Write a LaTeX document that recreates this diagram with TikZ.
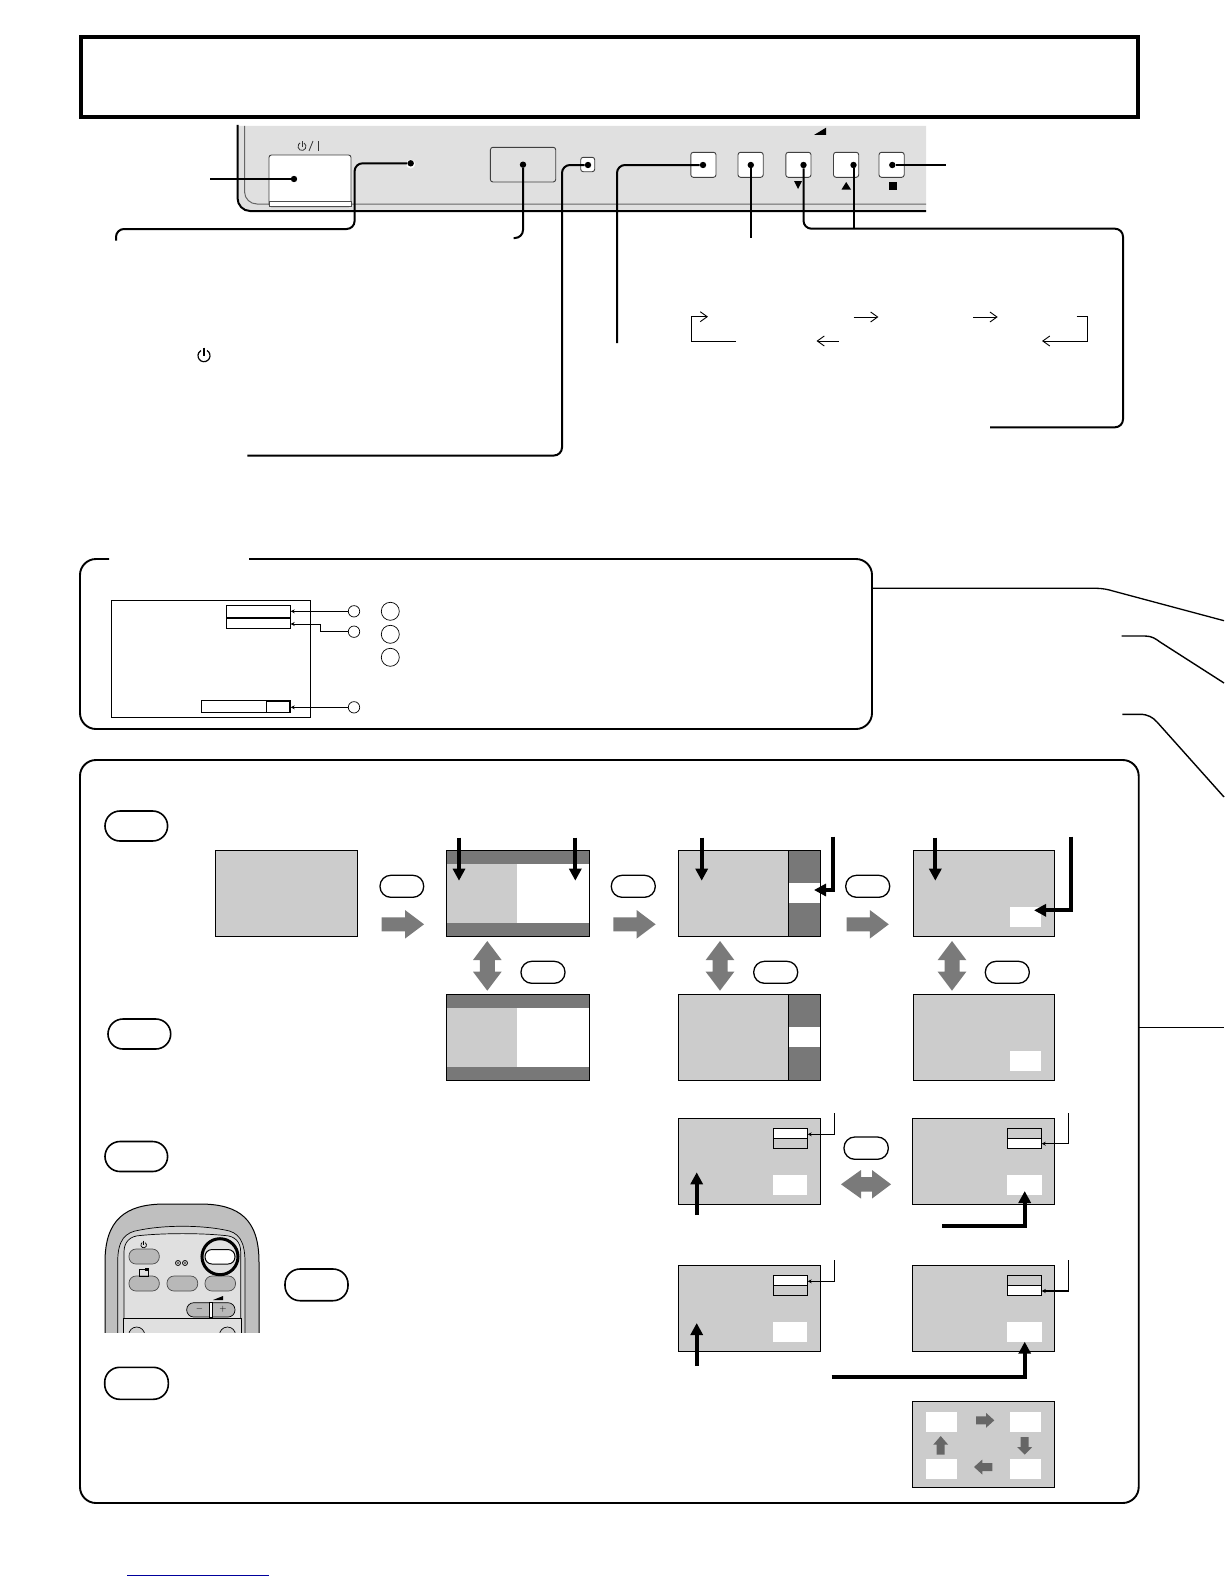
\documentclass[tikz,border=0pt]{standalone}
\usetikzlibrary{arrows.meta}
\definecolor{panelgray}{HTML}{E0E0E0}
\definecolor{scrgray}{HTML}{CCCCCC}
\definecolor{scrdark}{HTML}{787878}
\definecolor{arrgray}{HTML}{7A7A7A}
\definecolor{smallgray}{HTML}{666666}
\definecolor{linkblue}{HTML}{00009C}
\tikzset{
  x=1pt,y=-1pt,
  leader/.style={line width=2pt,rounded corners=8pt},
  dotnode/.style={circle,fill=black,inner sep=0pt,minimum size=6.4pt},
  keybox/.style={draw=black!75,line width=0.9pt,fill=white,rounded corners=2.5pt},
  framebox/.style={draw=black,line width=1.9pt,rounded corners=16pt},
  pill/.style={draw=black,line width=1.3pt,fill=white,rounded corners=10.8pt},
  bigpill/.style={draw=black,line width=1.6pt,fill=white,rounded corners=15pt},
  screen/.style={draw=black,line width=0.9pt},
  thinarrow/.style={line width=0.9pt,-{Straight Barb[length=7pt,width=10pt]}},
  thickarrow/.style={line width=4pt,-{Triangle[length=12pt,width=12pt]}},
  smallleader/.style={line width=0.8pt,-{Stealth[length=4pt,width=4pt]}},
  medleader/.style={line width=1.5pt,-{Stealth[length=4pt,width=4pt]}},
  remotebtn/.style={draw=black!70,line width=0.7pt,fill=black!28,rounded corners=7pt},
  smallring/.style={draw,circle,line width=0.7pt,minimum size=11.4pt,inner sep=0pt},
  bigring/.style={draw,circle,line width=0.7pt,minimum size=18pt,inner sep=0pt},
  volmark/.style={inner sep=0pt,font=\small},
}
\newcommand\grayright[2]{\fill[arrgray] (#1,#2) -- ++(0,-7) -- ++(23.3,0) -- ++(0,-7.3) -- ++(19,14.3) -- ++(-19,14.3) -- ++(0,-7.3) -- ++(-23.3,0) -- cycle;}
\newcommand\graydouble[2]{\fill[arrgray] (#1,#2) -- ++(14.3,19) -- ++(-6.8,0) -- ++(0,11.7) -- ++(6.8,0) -- ++(-14.3,19) -- ++(-14.3,-19) -- ++(6.8,0) -- ++(0,-11.7) -- ++(-6.8,0) -- cycle;}
\begin{document}
\begin{tikzpicture}
\useasboundingbox (0,0) rectangle (1224,1584);
\fill[white] (0,0) rectangle (1224,1584);

% title frame
\draw[line width=4pt] (81,37) rectangle (1138,117);

% control panel
\fill[panelgray] (237.5,126) -- (926,126) -- (926,211) -- (250,211) to[out=180,in=-90] (237.5,198) -- cycle;
\draw[line width=1pt,black!60] (244.6,126) -- (244.6,192) to[out=-90,in=180] (257,204) -- (926,204);
\draw[line width=2pt] (237.5,125) -- (237.5,198) to[out=-90,in=180] (250,211) -- (926,211);

% power button
\draw[keybox] (269,206.7) -- (269,155) -- (351,155) -- (351,206.7) -- cycle;
\draw[line width=0.7pt,black!70,fill=white] (269,201.7) rectangle (351,206.7);
\draw[line width=0.8pt,black!80] (304,143) arc[start angle=60,end angle=-240,radius=4pt];
\draw[line width=0.8pt,black!80] (302,141) -- (302,147);
\draw[line width=0.8pt,black!80] (309,151) -- (313,141);
\draw[line width=0.8pt,black!80] (318,141) -- (318,151);

% display windows
\draw[keybox,fill=panelgray] (490.4,147.3) rectangle (555.7,182);
\draw[keybox,fill=white] (580.7,157.3) rectangle (594.7,171.7);
\foreach \x in {690.8,738,785.8,833.5,879}
  \draw[keybox] (\x,152.3) rectangle (\x+25.2,177.3);
\fill (794,181) -- (802,181) -- (798,189) -- cycle;
\fill (841.5,189.5) -- (851,189.5) -- (846.2,182) -- cycle;
\fill (888.5,182) rectangle (896.5,189.5);
\fill (814,135) -- (826,135) -- (826,127.7) -- cycle;

% LED
\fill[white] (410.7,164) circle[radius=4.5pt];

% leader dots
\node[dotnode] (pwr) at (294,179) {};
\node[dotnode] (led) at (410.7,163.3) {};
\node[dotnode] (dsp) at (523,164.7) {};
\node[dotnode] (sns) at (588,165) {};
\node[dotnode] (ka) at (703,165) {};
\node[dotnode] (kb) at (750.8,165) {};
\node[dotnode] (kc) at (803.5,165) {};
\node[dotnode] (kd) at (853.5,165) {};
\node[dotnode] (ke) at (892.3,165) {};
\coordinate (pwrE) at (210,179);
\coordinate (ledE) at (116,240.7);
\coordinate (dspE) at (513.6,238);
\coordinate (snsE) at (247.4,455.5);
\coordinate (kaE) at (617,343);
\coordinate (kbE) at (750.8,238.3);
\coordinate (kcE) at (990,427.3);
\coordinate (kdE) at (853.5,228.7);
\coordinate (keE) at (946,165);

\draw[leader] (pwr) -- (pwrE);
\draw[leader] (led) -- (354.6,163.3) -- (354.6,229) -- (116,229) -- (ledE);
\draw[leader] (dsp) -- (523,238) -- (dspE);
\draw[leader] (sns) -- (562,165) -- (562,455.5) -- (snsE);
\draw[leader] (ka) -- (617,165) -- (kaE);
\draw[leader] (kb) -- (kbE);
\draw[leader] (kc) -- (803.5,228.7) -- (1123,228.7) -- (1123,427.3) -- (kcE);
\draw[leader] (kd) -- (kdE);
\draw[leader] (ke) -- (keE);

% cycle arrows
\draw[thinarrow] (736,341) -- (691,341) -- (691,316.7) -- (708,316.7);
\draw[thinarrow] (853.5,317) -- (878.4,317);
\draw[thinarrow] (973,317) -- (997.7,317);
\draw[thinarrow] (838.5,341) -- (816.5,341);
\draw[thinarrow] (1076.5,316.3) -- (1087,316.3) -- (1087,341) -- (1042,341);

% standby icon
\draw[line width=1.2pt] (207,350.5) arc[start angle=60,end angle=-240,radius=6pt];
\draw[line width=1.2pt] (204,347.5) -- (204,356);

% on-screen box
\draw[framebox] (109,559) -- (80,559) -- (80,729) -- (872,729) -- (872,559) -- (249,559);
\draw[line width=0.9pt] (111.3,600.3) rectangle (310.3,717.3);
\draw[line width=0.9pt] (226.3,605.3) rectangle (290.7,628.7);
\draw[line width=1.6pt] (226.3,617.7) -- (290.7,617.7);
\draw[line width=0.9pt] (201.3,700.3) rectangle (290.7,712.7);
\draw[line width=0.9pt] (266.3,701) rectangle (289,712);
\node[smallring] (ca) at (354,611.3) {};
\node[smallring] (cb) at (354,631.7) {};
\node[smallring] (cc) at (354,707.3) {};
\node[bigring] (cd) at (390.3,611.3) {};
\node[bigring] (ce) at (390.3,634.3) {};
\node[bigring] (cf) at (390.3,657.3) {};
\coordinate (ta) at (290.7,611.3);
\coordinate (tb) at (290.7,624);
\coordinate (tc) at (290.7,707.3);
\draw[smallleader] (ca) -- (ta);
\draw[smallleader] (cb) -- (320.5,631.7) -- (320.5,624) -- (tb);
\draw[smallleader] (cc) -- (tc);

% curved lines running off the right edge
\coordinate (la) at (1224,620.7);
\coordinate (lb) at (1224,683);
\coordinate (lc) at (1224,797);
\coordinate (ld) at (1224,1027.7);
\draw[line width=1.3pt] (872,588.3) -- (1095,588.3) .. controls (1103,588.3) and (1108,589.5) .. (1113,591) -- (la);
\draw[line width=1.4pt] (1121.7,636) -- (1145,636) .. controls (1152,636) and (1156,639) .. (1160,642) -- (lb);
\draw[line width=1.4pt] (1122.3,714.3) -- (1140,714.3) .. controls (1148,714.3) and (1153,717.5) .. (1157,722) -- (lc);

% main box
\draw[framebox] (80,760) rectangle (1138.7,1503);
\draw[line width=1.5pt] (1138.7,1027.7) -- (ld);

% left pills
\draw[bigpill] (105,811) rectangle (167.6,841);
\draw[bigpill] (108,1019) rectangle (170.7,1049);
\draw[bigpill] (105,1141.5) rectangle (167.6,1171.5);
\draw[bigpill] (285,1269) rectangle (348,1300.7);
\draw[bigpill] (104.7,1367.3) rectangle (168.3,1399.3);

% screen A
\draw[screen,fill=scrgray] (215,850.3) rectangle (357.5,936.3);
% screen B, B2
\foreach \y in {850.3,994.3}{
  \fill[scrgray] (446.7,\y) rectangle (517,\y+86);
  \fill[white] (517,\y) rectangle (589.3,\y+86);
  \fill[scrdark] (446.7,\y) rectangle (589.3,\y+13.7);
  \fill[scrdark] (446.7,\y+72.4) rectangle (589.3,\y+86);
  \draw[screen] (446.7,\y) rectangle (589.3,\y+86);
}
% screen C, C2
\foreach \y in {850.3,994.3}{
  \fill[scrgray] (678.3,\y) rectangle (788.3,\y+86);
  \fill[scrdark] (788.3,\y) rectangle (820.7,\y+86);
  \fill[white] (788.3,\y+32.7) rectangle (820.7,\y+52.7);
  \draw[line width=0.6pt] (788.3,\y) -- (788.3,\y+86);
  \draw[screen] (678.3,\y) rectangle (820.7,\y+86);
}
% screen D, D2
\foreach \y in {850.3,994.3}{
  \draw[screen,fill=scrgray] (913.3,\y) rectangle (1054.7,\y+86);
  \fill[white] (1010,\y+56.7) rectangle (1041,\y+76.7);
}
% screens E, G
\foreach \y in {1118.3,1265.3}{
  \draw[screen,fill=scrgray] (678.3,\y) rectangle (820.3,\y+86);
  \fill[white] (773,\y+56.7) rectangle (807,\y+76.7);
  \fill[white] (773.3,\y+10) rectangle (807.7,\y+20);
  \draw[line width=0.8pt] (773.3,\y+10) rectangle (807.7,\y+30.4);
  \draw[line width=0.8pt] (773.3,\y+20) -- (807.7,\y+20);
}
% screens F, H
\foreach \y in {1118.3,1265.3}{
  \draw[screen,fill=scrgray] (912.3,\y) rectangle (1054.7,\y+86);
  \fill[white] (1006.7,\y+56.7) rectangle (1042,\y+76.7);
  \fill[white] (1007.3,\y+20) rectangle (1041.7,\y+30.4);
  \draw[line width=0.8pt] (1007.3,\y+10) rectangle (1041.7,\y+30.4);
  \draw[line width=0.8pt] (1007.3,\y+20) -- (1041.7,\y+20);
  \draw[line width=1.2pt] (1007.3,\y+30.4) -- (1041.7,\y+30.4);
}
% screen I
\draw[screen,fill=scrgray] (912.3,1401.7) rectangle (1054.7,1487.3);
\fill[white] (926,1412) rectangle (956.7,1432);
\fill[white] (1010,1412) rectangle (1041,1432);
\fill[white] (926,1458.7) rectangle (956.7,1479);
\fill[white] (1010,1458.7) rectangle (1041,1479);
\fill[smallgray] (976,1416.3) -- ++(10,0) -- ++(0,-3.5) -- ++(8.3,7.5) -- ++(-8.3,7.5) -- ++(0,-3.5) -- ++(-10,0) -- cycle;
\fill[smallgray] (992.3,1463) -- ++(-10,0) -- ++(0,-3.5) -- ++(-8.3,7.5) -- ++(8.3,7.5) -- ++(0,-3.5) -- ++(10,0) -- cycle;
\fill[smallgray] (1020.7,1437) -- ++(0,10) -- ++(-3.5,0) -- ++(7.5,7.7) -- ++(7.5,-7.7) -- ++(-3.5,0) -- ++(0,-10) -- cycle;
\fill[smallgray] (936.7,1454.7) -- ++(0,-10) -- ++(-3.5,0) -- ++(7.5,-8.7) -- ++(7.5,8.7) -- ++(-3.5,0) -- ++(0,10) -- cycle;

% gray block arrows
\grayright{381.7}{924.3}
\grayright{613.3}{924.3}
\grayright{846.5}{924.3}
\graydouble{487.3}{941}
\graydouble{720}{941}
\graydouble{952}{941}
\fill[arrgray] (841,1184.3) -- (861,1170) -- (861,1177) -- (872,1177) -- (872,1170) -- (891,1184.3) -- (872,1198.6) -- (872,1191.6) -- (861,1191.6) -- (861,1198.6) -- cycle;

% pills
\draw[pill] (380,875.3) rectangle (423.7,897.3);
\draw[pill] (611.3,875.3) rectangle (655.3,897.3);
\draw[pill] (845.7,875.3) rectangle (889.7,897.3);
\draw[pill] (521,961.3) rectangle (565,983.3);
\draw[pill] (753.7,961.3) rectangle (797.7,983.3);
\draw[pill] (985.3,961.3) rectangle (1029.3,983.3);
\draw[pill] (844,1137) rectangle (888.3,1159.3);

% black arrows
\draw[thickarrow] (459,837.7) -- (459,880.7);
\draw[thickarrow] (575.3,837.7) -- (575.3,880.7);
\draw[thickarrow] (701.7,837.7) -- (701.7,880.7);
\draw[thickarrow] (935.3,837.7) -- (935.3,880.7);
\draw[thickarrow] (833.3,836.7) -- (833.3,890) -- (814,890);
\draw[thickarrow] (1070.7,836.7) -- (1070.7,910.3) -- (1034,910.3);
\draw[thickarrow] (696.7,1215) -- (696.7,1172.3);
\draw[thickarrow] (942.3,1226) -- (1024.7,1226) -- (1024.7,1191);
\draw[thickarrow] (696.7,1366) -- (696.7,1323);
\draw[thickarrow] (831.7,1377) -- (1024.7,1377) -- (1024.7,1341.7);

% thin connectors to bars
\draw[smallleader] (834.3,1113.3) -- (834.3,1134.3) -- (807.7,1134.3);
\draw[medleader] (1068.7,1113.3) -- (1068.7,1143.7) -- (1041.7,1143.7);
\draw[smallleader] (834.3,1260) -- (834.3,1281.3) -- (807.7,1281.3);
\draw[medleader] (1068.7,1260) -- (1068.7,1291) -- (1041.7,1291);

% remote
\begin{scope}
\clip (100,1195) rectangle (265,1332.7);
\draw[line width=1pt,fill=black!25] (105,1340) -- (105,1262) .. controls (105,1220) and (125,1204) .. (165,1204) -- (200,1204) .. controls (240,1204) and (259,1220) .. (259,1262) -- (259,1340);
\draw[line width=0.7pt,fill=black!18] (117.7,1340) -- (117.7,1262) .. controls (117.7,1240) and (125,1232) .. (140,1230) .. controls (165,1225) and (200,1225) .. (225,1230) .. controls (238,1232) and (245,1240) .. (245,1262) -- (245,1340);
\draw[line width=0.7pt,fill=panelgray] (124,1340) -- (124,1252) .. controls (124,1242) and (130,1236) .. (140,1235.5) .. controls (165,1233) and (200,1233) .. (225,1235.5) .. controls (235,1236) and (240.7,1242) .. (240.7,1252) -- (240.7,1340);
\draw[line width=0.8pt,fill=panelgray] (123.3,1318.3) rectangle (241.7,1345);
\draw[line width=0.7pt,fill=black!18] (136.7,1335) circle[radius=8pt];
\draw[line width=0.7pt,fill=black!18] (227.5,1335) circle[radius=8pt];
\draw[line width=0.7pt,fill=black!18] (168,1334) rectangle (198,1345);
\end{scope}
\draw[remotebtn] (129,1249) rectangle (159.3,1264);
\draw[remotebtn] (129,1276) rectangle (159.3,1291);
\draw[remotebtn] (167,1276) rectangle (197.7,1291);
\draw[remotebtn] (205,1276) rectangle (235.5,1291);
\draw[line width=3pt,fill=panelgray] (220,1256.7) circle[radius=18pt];
\draw[line width=1pt,fill=white,rounded corners=7pt] (205,1249.5) rectangle (235,1264);
\draw[line width=0.7pt] (145.1,1242.6) arc[start angle=60,end angle=-240,radius=2.8pt];
\draw[line width=0.7pt] (143.7,1240.5) -- (143.7,1245);
\draw[line width=0.7pt] (139.5,1269) rectangle (148,1276);
\fill (144.5,1267.5) rectangle (148.5,1271);
\draw[line width=0.8pt] (178,1263) circle[radius=2.5pt];
\draw[line width=0.8pt] (185,1263) circle[radius=2.5pt];
\fill (178,1263) circle[radius=0.9pt];
\fill (185,1263) circle[radius=0.9pt];
\draw[line width=0.7pt,fill=black!28,rounded corners=7pt] (186.7,1302.7) rectangle (235,1317);
\draw[line width=0.6pt,fill=white] (209.5,1302.7) rectangle (212.5,1317);
\fill (213,1300) -- (223,1300) -- (223,1296) -- cycle;
\node[volmark] (volminus) at (199.5,1309.5) {$-$};
\node[volmark] (volplus) at (223,1309.5) {$+$};

% bottom rule
\draw[linkblue,line width=1pt] (127,1575) -- (269,1575);
\end{tikzpicture}
\end{document}
